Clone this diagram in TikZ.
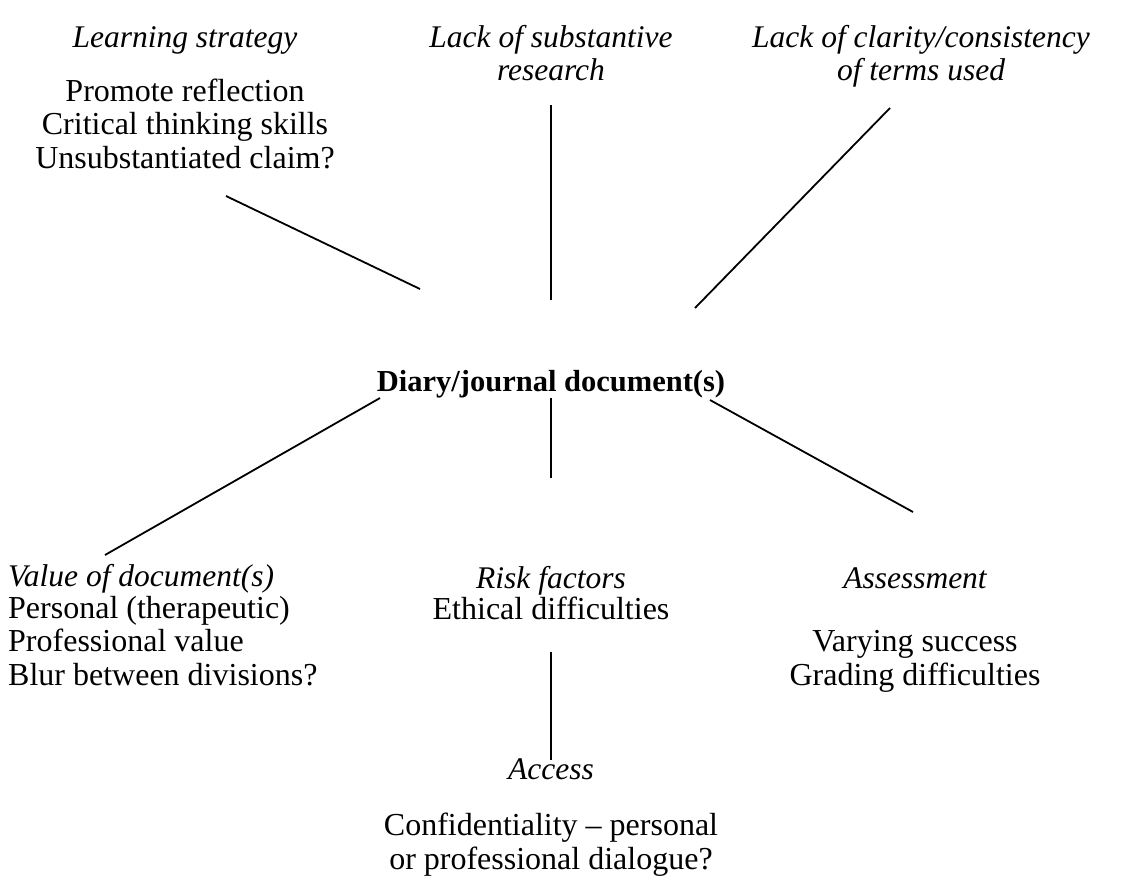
\documentclass[tikz,border=0pt]{standalone}
\usepackage{fontspec}
\setmainfont{Liberation Serif}
\begin{document}
\begin{tikzpicture}[x=1pt,y=-1pt,
           head_style/.style={anchor=base,inner sep=0pt,align=center,font=\fontsize{31.5}{33}\selectfont\itshape},
           body_style/.style={anchor=base,inner sep=0pt,align=center,font=\fontsize{32}{33.5}\selectfont},
           main_style/.style={anchor=base,inner sep=0pt,font=\fontsize{30.5}{33}\selectfont\bfseries},
           edge_style/.style={draw=black,line width=1.8pt}]
            \useasboundingbox (0,0) rectangle (1121,895);
            % texts (base = last line)
            \node[head_style] (learn) at (185, 47)  {Learning strategy};
            \node[body_style] (learnbody) at (185, 168)  {Promote reflection\\Critical thinking skills\\Unsubstantiated claim?};
            \node[head_style] (research) at (551, 80)  {Lack of substantive\\research};
            \node[head_style] (clarity) at (921, 80)  {Lack of clarity/consistency\\of terms used};
            \node[main_style] (diary) at (551, 391)  {Diary/journal document(s)};
            \node[head_style,anchor=base west,align=left] (value) at (8, 586)  {Value of document(s)};
            \node[body_style,anchor=base west,align=left] (valuebody) at (8, 685)  {Personal (therapeutic)\\Professional value\\Blur between divisions?};
            \node[head_style] (risk) at (551, 588)  {Risk factors};
            \node[body_style] (riskbody) at (551, 619)  {Ethical difficulties};
            \node[head_style] (assess) at (915, 588)  {Assessment};
            \node[body_style] (assessbody) at (915, 685)  {Varying success\\Grading difficulties};
            \node[head_style] (access) at (551, 779)  {Access};
            \node[body_style] (accessbody) at (551, 869)  {Confidentiality -- personal\\or professional dialogue?};
            % line ends
            \coordinate (l1a) at (226, 196);
            \coordinate (l1b) at (420, 289);
            \coordinate (l2a) at (551, 105);
            \coordinate (l2b) at (551, 300);
            \coordinate (l3a) at (890, 108);
            \coordinate (l3b) at (695, 308);
            \coordinate (l4a) at (380, 398);
            \coordinate (l4b) at (105, 555);
            \coordinate (l5a) at (551, 398);
            \coordinate (l5b) at (551, 478);
            \coordinate (l6a) at (710, 400);
            \coordinate (l6b) at (913, 512);
            \coordinate (l7a) at (551, 652);
            \coordinate (l7b) at (551, 760);
            % lines
            \draw[edge_style]  (l1a) edge (l1b);
            \draw[edge_style]  (l2a) edge (l2b);
            \draw[edge_style]  (l3a) edge (l3b);
            \draw[edge_style]  (l4a) edge (l4b);
            \draw[edge_style]  (l5a) edge (l5b);
            \draw[edge_style]  (l6a) edge (l6b);
            \draw[edge_style]  (l7a) edge (l7b);
        \end{tikzpicture}
\end{document}
